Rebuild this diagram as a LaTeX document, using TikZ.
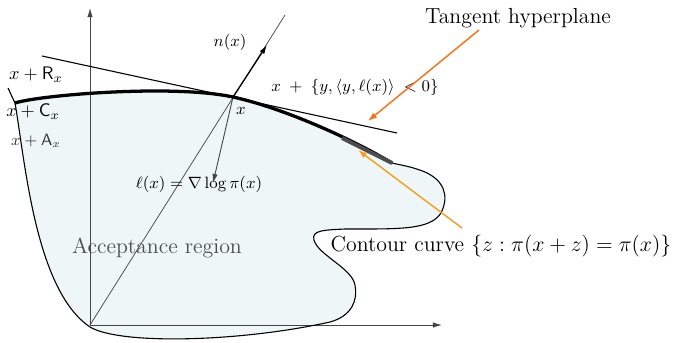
\documentclass[tikz,border=0pt]{standalone}
\usepackage{amsmath,amssymb}
\usepackage{tikz}
\usetikzlibrary{arrows.meta,positioning,calc}
\definecolor{regionfill}{RGB}{238,246,248}
\definecolor{tangorange}{RGB}{255,112,20}
\definecolor{contorange}{RGB}{245,160,30}
\definecolor{axisgray}{RGB}{70,70,70}

\begin{document}
\begin{tikzpicture}[x=0.55pt,y=-0.55pt,
  axis/.style={axisgray,line width=0.5pt,-{Latex[length=5pt,width=3pt]}},
  bigtext/.style={font=\large,inner sep=1pt},
  lbl/.style={inner sep=1pt},
  callout/.style={line width=0.8pt,-{Latex[length=5pt,width=3.5pt]}}]
  \useasboundingbox (0,0) rectangle (673,342);
  \coordinate (O) at (90,325); % 原点
  \coordinate (ytop) at (90,8); % 縦軸の先端
  \coordinate (xend) at (442,325); % 横軸の先端
  \coordinate (xpt) at (233,97); % 接点 x
  \coordinate (rayend) at (285,15); % 原点から x を通る直線の端
  \coordinate (nend) at (267,45); % 法線ベクトル n(x) の先端
  \coordinate (lend) at (213,183); % 勾配 l(x) の先端
  \coordinate (tanA) at (42,56); % 接超平面の左端
  \coordinate (tanB) at (397,133); % 接超平面の右端
  \coordinate (cstart) at (8,88); % 境界線の始点
  \coordinate (cleft) at (15,103); % 等高線の左端
  \coordinate (cright) at (392,163); % 等高線の右端
  \coordinate (cdark) at (342,138); % 濃い部分の始点
  \coordinate (tangtail) at (479,30);
  \coordinate (tangtip) at (368,121);
  \coordinate (conttail) at (462,228);
  \coordinate (conttip) at (358,150);

  \fill[regionfill] (cleft) .. controls (25,160) and (35,290) .. (90,327)
    .. controls (120,345) and (240,342) .. (330,322)
    .. controls (352,316) and (358,300) .. (355,285)
    .. controls (352,268) and (318,255) .. (314,240)
    .. controls (311,230) and (325,230) .. (345,229)
    .. controls (400,229) and (430,230) .. (441,213)
    .. controls (450,195) and (443,180) .. (425,172)
    .. controls (410,166) and (400,165) .. (cright)
    .. controls (350,138) and (283,108) .. (xpt)
    .. controls (173,84) and (40,95) .. (cleft) -- cycle; % 受理領域

  \draw[axis] (O) -- (ytop); % 縦軸
  \draw[axis] (O) -- (xend); % 横軸
  \draw[axisgray,line width=0.4pt] (O) -- (rayend); % x を通る直線
  \draw[axisgray,line width=0.5pt,-{Latex[length=5pt,width=3pt]}] (xpt) -- (lend); % 勾配

  \draw[line width=0.6pt] (cstart) -- (cleft); % 境界線の始め
  \draw[line width=0.6pt] (cleft) .. controls (25,160) and (35,290) .. (90,327)
    .. controls (120,345) and (240,342) .. (330,322)
    .. controls (352,316) and (358,300) .. (355,285)
    .. controls (352,268) and (318,255) .. (314,240)
    .. controls (311,230) and (325,230) .. (345,229)
    .. controls (400,229) and (430,230) .. (441,213)
    .. controls (450,195) and (443,180) .. (425,172)
    .. controls (410,166) and (400,165) .. (cright); % 領域の境界
  \draw[line width=1.8pt] (cleft) .. controls (40,95) and (173,84) .. (xpt)
    .. controls (283,108) and (350,138) .. (cright); % 等高線
  \draw[gray!60!black,line width=2.2pt] (cdark) -- (cright); % 等高線の濃い部分
  \draw[line width=0.6pt] (tanA) -- (tanB); % 接超平面
  \draw[line width=0.7pt,-{Latex[length=5pt,width=3pt]}] (xpt) -- (nend); % 法線

  \node[bigtext] (tang) at (518,18) {Tangent hyperplane};
  \node[lbl,font=\small] (half) at (355,87) {$x\;+\;\{y,\langle y,\ell(x)\rangle\;<0\}$};
  \node[lbl,font=\small] (nlab) at (230,42) {$n(x)$};
  \node[lbl,font=\small] (xlab) at (241,111) {$x$};
  \node[lbl] (rlab) at (36,75) {$x+\mathsf{R}_x$};
  \node[lbl] (clab) at (33,112) {$x+\mathsf{C}_x$};
  \node[lbl,font=\small,text=black!80] (alab) at (36,141) {$x+\mathsf{A}_x$};
  \node[lbl,font=\small] (llab) at (199,184) {$\ell(x)=\nabla\log\pi(x)$};
  \node[bigtext,text=black!70] (acc) at (157,248) {Acceptance region};
  \node[bigtext] (cont) at (501,246) {Contour curve $\{z:\pi(x+z)=\pi(x)\}$};

  \draw[callout,tangorange] (tangtail) -- (tangtip); % 接超平面への矢印
  \draw[callout,contorange] (conttail) -- (conttip); % 等高線への矢印
\end{tikzpicture}
\end{document}
